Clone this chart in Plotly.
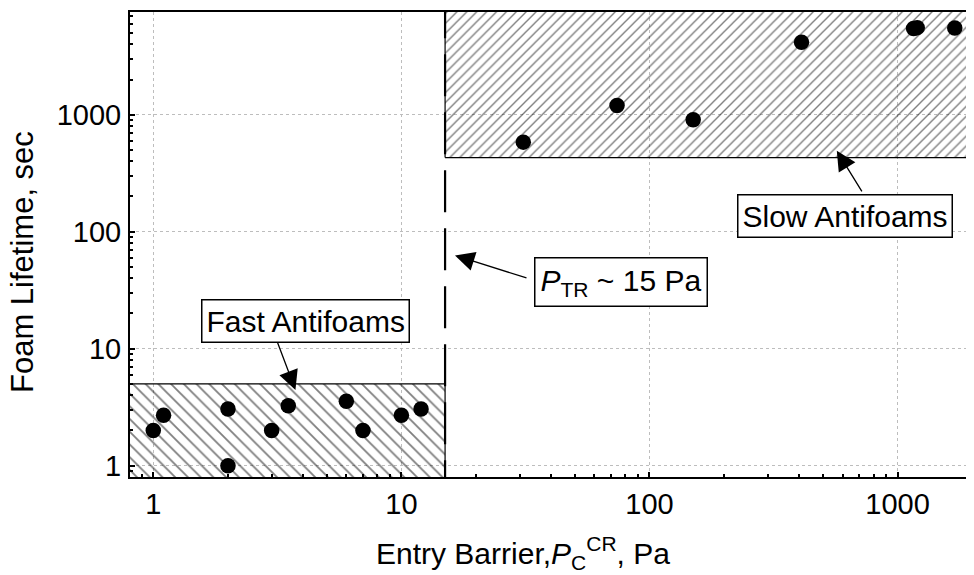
import plotly.graph_objects as go

# ---- data ----
fast_x = [1.0, 1.1, 2.0, 2.0, 3.0, 3.5, 6.0, 7.0, 10.0, 12.0]
fast_y = [2.0, 2.7, 3.05, 1.0, 2.0, 3.25, 3.55, 2.0, 2.7, 3.05]
slow_x = [31, 74, 150, 410, 1160, 1200, 1700]
slow_y = [583, 1200, 906, 4170, 5450, 5550, 5500]

fast_region_x = [0.7, 15]
fast_region_y = [0.7, 5]
slow_region_x = [15, 2500]
slow_region_y = [430, 9000]
p_tr = 15
tick_vals = [1, 10, 100, 1000]
tick_text = ["1", "10", "100", "1000"]

FONT = "Arial, Liberation Sans, sans-serif"

# page body adds an 8px offset; the figure is sized to fit the window
W, H = 966, 567
L, T = 122, 4
PW, PH = 844, 465

fig = go.Figure()

def box(xr, yr, shape, size):
    return go.Scatter(
        x=[xr[0], xr[1], xr[1], xr[0], xr[0]],
        y=[yr[0], yr[0], yr[1], yr[1], yr[0]],
        mode="lines", fill="toself",
        fillcolor="rgba(0,0,0,0)",
        fillpattern=dict(shape=shape, size=size, solidity=0.2,
                         fgcolor="black", bgcolor="rgba(0,0,0,0)"),
        line=dict(color="black", width=1.2),
        hoverinfo="skip", showlegend=False)

fig.add_trace(box(fast_region_x, fast_region_y, "\\", 9))
fig.add_trace(box(slow_region_x, slow_region_y, "/", 7))

fig.add_trace(go.Scatter(x=[p_tr, p_tr], y=[10300, 0.7], mode="lines",
                         line=dict(color="black", width=2.2, dash="42px,16px"),
                         showlegend=False, hoverinfo="skip"))

fig.add_trace(go.Scatter(x=fast_x, y=fast_y, mode="markers",
                         marker=dict(color="black", size=15.5), showlegend=False))
fig.add_trace(go.Scatter(x=slow_x, y=slow_y, mode="markers",
                         marker=dict(color="black", size=15.5), showlegend=False))

axis_common = dict(
    type="log", showline=True, linecolor="black", linewidth=2,
    ticks="inside", ticklen=5, tickwidth=1.5, tickcolor="black",
    tickvals=tick_vals, ticktext=tick_text,
    showgrid=True, gridcolor="#bdbdbd", gridwidth=1, griddash="dot",
    zeroline=False, automargin=False,
    tickfont=dict(family=FONT, size=29, color="black"),
    minor=dict(ticks="inside", ticklen=3, tickwidth=1.5, tickcolor="black",
               dtick="D1", showgrid=False),
)

fig.update_xaxes(range=[-0.0939, 3.308], mirror=True, **axis_common)
fig.update_yaxes(range=[-0.0966, 3.878], ticklabelstandoff=1, **axis_common)

ann_font = dict(family=FONT, size=30, color="black")
title_font = dict(family=FONT, size=30, color="black")
arrow_style = dict(arrowhead=2, arrowsize=3, arrowwidth=1.3, arrowcolor="black")

annotations = [
    # text boxes
    dict(x=0.613, y=1.234, xref="x", yref="y", text="Fast Antifoams",
         showarrow=False, font=ann_font, bgcolor="white",
         bordercolor="black", borderwidth=1.5, borderpad=4),
    dict(x=2.788, y=2.133, xref="x", yref="y", text="Slow Antifoams",
         showarrow=False, font=ann_font, bgcolor="white",
         bordercolor="black", borderwidth=1.5, borderpad=4),
    dict(x=1.886, y=1.573, xref="x", yref="y",
         text="<i>P</i><sub>TR</sub> ~ 15 Pa",
         showarrow=False, font=ann_font, bgcolor="white",
         bordercolor="black", borderwidth=1.5, borderpad=5),
    # arrows
    dict(x=0.573, y=0.647, xref="x", yref="y", text="", showarrow=True,
         ax=-18.5, ay=-49, **arrow_style),
    dict(x=2.755, y=2.691, xref="x", yref="y", text="", showarrow=True,
         ax=26, ay=42, **arrow_style),
    dict(x=1.216, y=1.797, xref="x", yref="y", text="", showarrow=True,
         ax=73, ay=23, **arrow_style),
    # axis titles
    dict(x=(523 - 130) / PW, y=(477 - 553) / PH, xref="paper", yref="paper",
         text="Entry Barrier,<i>P</i><sub>C</sub><sup>CR</sup>, Pa",
         showarrow=False, font=title_font, xanchor="center", yanchor="middle"),
    dict(x=(23 - 130) / PW, y=(477 - 262) / PH, xref="paper", yref="paper",
         text="Foam Lifetime, sec", textangle=-90,
         showarrow=False, font=dict(family=FONT, size=31, color="black"),
         xanchor="center", yanchor="middle"),
]

fig.update_layout(
    width=W, height=H,
    margin=dict(l=L, r=W - L - PW, t=T, b=H - T - PH),
    paper_bgcolor="white", plot_bgcolor="white",
    annotations=annotations,
    showlegend=False,
)

fig.write_html("out.html")
